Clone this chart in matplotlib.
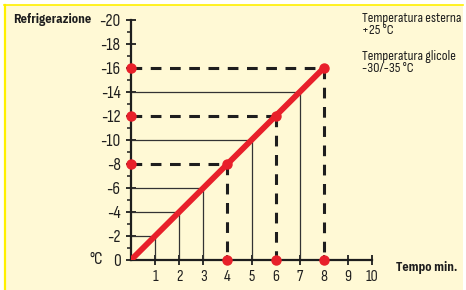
import matplotlib.pyplot as plt
from matplotlib import font_manager as fm
from matplotlib.patches import Rectangle
from matplotlib.lines import Line2D

names = {f.name for f in fm.fontManager.ttflist}


def pick(*cands):
    for c in cands:
        if c in names:
            return [c, "DejaVu Sans"]
    return ["DejaVu Sans"]


body_font = pick("Sofia Sans Condensed", "IBM Plex Sans Condensed")
bold_font = pick("IBM Plex Sans Condensed", "Sofia Sans Condensed")
plt.rcParams["font.family"] = body_font
plt.rcParams["axes.unicode_minus"] = False

# data
time_min = [0, 1, 2, 3, 4, 5, 6, 7, 8]
temp_c = [0, -2, -4, -6, -8, -10, -12, -14, -16]
solid_x = [1, 2, 3, 5, 7]
solid_t = [-2, -4, -6, -10, -14]
dashed_x = [4, 6, 8]
dashed_t = [-8, -12, -16]
x_ticks = [1, 2, 3, 4, 5, 6, 7, 8, 9, 10]
y_ticks = [0, -2, -4, -6, -8, -10, -12, -14, -16, -18, -20]
y_minor = [-1, -3, -5, -7, -9, -11, -13, -15, -17, -19]

cream = "#fff9d5"
yellow = "#fff000"
red = "#e8202a"
ink = "#1e1e1e"

fig = plt.figure(figsize=(4.66, 2.90), dpi=100)
W, H = 466, 290

# cream panel with yellow border on left and top
fig.patches.append(Rectangle((4 / W, 0), 459 / W, 285 / H, transform=fig.transFigure,
                             facecolor=cream, edgecolor="none", zorder=-5))
fig.add_artist(Line2D([4.5 / W, 4.5 / W], [0, 285 / H], color=yellow, lw=1.6,
                      transform=fig.transFigure, zorder=-4))
fig.add_artist(Line2D([4 / W, 463 / W], [285 / H, 285 / H], color=yellow, lw=1.2,
                      transform=fig.transFigure, zorder=-4))

ax = fig.add_axes([131 / W, 30 / H, 241 / W, 240 / H])
ax.set_facecolor("none")
ax.set_xlim(0, 10)
ax.set_ylim(0, -20)
for s in ["top", "right"]:
    ax.spines[s].set_visible(False)
for s in ["left", "bottom"]:
    ax.spines[s].set_linewidth(1.6)
    ax.spines[s].set_color(ink)

# thin guide lines
for x, t in zip(solid_x, solid_t):
    ax.plot([0, x], [t, t], color="#333333", lw=0.9, zorder=2)
    ax.plot([x, x], [t, 0], color="#333333", lw=0.9, zorder=2)

# dashed guide lines
for x, t in zip(dashed_x, dashed_t):
    ax.plot([0, x], [t, t], color=ink, lw=2.2, dashes=(3.5, 2.8), zorder=3)
    ax.plot([x, x], [t, 0], color=ink, lw=2.2, dashes=(3.5, 2.8), zorder=3)

# main line
ax.plot(time_min, temp_c, color=red, lw=4.2, solid_capstyle="round", zorder=4)

# red dots
ax.plot(dashed_x, dashed_t, "o", color=red, ms=6.5, zorder=5, clip_on=False)
ax.plot([0] * len(dashed_t), dashed_t, "o", color=red, ms=6.5, zorder=5, clip_on=False)
ax.plot(dashed_x, [0] * len(dashed_x), "o", color=red, ms=6.5, zorder=5, clip_on=False)

ax.set_xticks(x_ticks)
ax.set_xticklabels([str(v) for v in x_ticks])
ax.set_yticks(y_ticks)
ax.set_yticklabels([str(v) for v in y_ticks])
ax.set_yticks(y_minor, minor=True)
ax.tick_params(axis="x", direction="inout", length=7, width=1.3, color=ink,
               labelsize=11.5, pad=4, labelcolor=ink)
ax.tick_params(axis="y", which="major", direction="inout", length=7, width=1.3,
               color=ink, labelsize=12.5, pad=4, labelcolor=ink)
ax.tick_params(axis="y", which="minor", direction="out", length=3, width=1.1,
               color=ink)

fig.text(13 / W, 1 - 20 / H, "Refrigerazione", fontsize=9, fontweight="bold",
         family=bold_font, color=ink, va="center", ha="left")
fig.text(89 / W, 1 - 260 / H, "°C", fontsize=12.5, color=ink, va="center", ha="left")
fig.text(396 / W, 1 - 268 / H, "Tempo min.", fontsize=8.8, fontweight="bold",
         family=bold_font, color=ink, va="center", ha="left")
fig.text(362 / W, 1 - 12 / H, "Temperatura esterna\n+25 °C", fontsize=10.2,
         color=ink, va="top", ha="left", linespacing=0.95)
fig.text(362 / W, 1 - 50 / H, "Temperatura glicole\n-30/-35 °C", fontsize=10.2,
         color=ink, va="top", ha="left", linespacing=0.95)

fig.savefig("out.png", dpi=100)
